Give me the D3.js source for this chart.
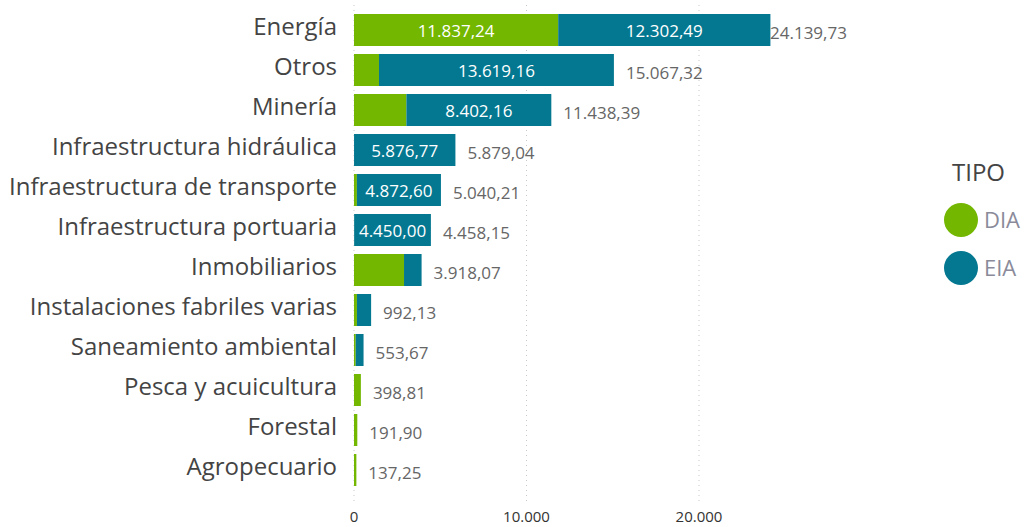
<!DOCTYPE html>
<meta charset="utf-8">
<svg width="1026" height="527"></svg>
<script src="https://d3js.org/d3.v7.min.js"></script>
<style>
  body { margin: 0; background: #fff; }
  * { font-family: 'Open Sans', sans-serif; }
</style>
<script>
var categories = ["Energía", "Otros", "Minería", "Infraestructura hidráulica",
  "Infraestructura de transporte", "Infraestructura portuaria", "Inmobiliarios",
  "Instalaciones fabriles varias", "Saneamiento ambiental", "Pesca y acuicultura",
  "Forestal", "Agropecuario"];
var dia = [11837.24, 1448.16, 3036.23, 2.27, 167.61, 8.15, 2900.00, 170.00, 100.00, 398.81, 191.90, 137.25];
var eia = [12302.49, 13619.16, 8402.16, 5876.77, 4872.60, 4450.00, 1018.07, 822.13, 453.67, 0, 0, 0];
var totals = [24139.73, 15067.32, 11438.39, 5879.04, 5040.21, 4458.15, 3918.07, 992.13, 553.67, 398.81, 191.90, 137.25];
var xTicks = [0, 10000, 20000];
var series = ["DIA", "EIA"];
var colors = ["#73b700", "#047891"];

var svg = d3.select("svg");
var fmt = d3.formatLocale({decimal: ",", thousands: ".", grouping: [3], currency: ["", ""]});
var fmt2 = fmt.format(",.2f"), fmt0 = fmt.format(",.0f");

var x = d3.scaleLinear().domain([0, 10000]).range([354, 526.5]);
var y = d3.scaleBand().domain(categories).range([10, 490]).paddingInner(0.2).paddingOuter(0.1);

// gridlines
svg.append("g").selectAll("line").data(xTicks).join("line")
  .attr("x1", d => x(d)).attr("x2", d => x(d))
  .attr("y1", 5).attr("y2", 505)
  .attr("stroke", "#c8c8c8").attr("stroke-dasharray", "1,4");

var rows = categories.map((c, i) => ({c: c, dia: dia[i], eia: eia[i], total: totals[i]}));
var stack = d3.stack().keys(["dia", "eia"])(rows);

svg.append("g").selectAll("g").data(stack).join("g")
  .attr("fill", (d, i) => colors[i])
  .selectAll("rect").data(d => d).join("rect")
  .attr("x", d => x(d[0]))
  .attr("width", d => Math.max(0, x(d[1]) - x(d[0])))
  .attr("y", d => y(d.data.c))
  .attr("height", y.bandwidth());

// in-bar labels
stack.forEach(function(s) {
  svg.append("g").selectAll("text").data(s.filter(d => x(d[1]) - x(d[0]) > 70)).join("text")
    .attr("x", d => (x(d[0]) + x(d[1])) / 2)
    .attr("y", d => y(d.data.c) + y.bandwidth() / 2 + 1)
    .attr("dy", "0.35em")
    .attr("text-anchor", "middle")
    .attr("fill", "#fff")
    .style("font-size", "17px")
    .text(d => fmt2(d[1] - d[0]));
});

// totals
svg.append("g").selectAll("text").data(rows).join("text")
  .attr("x", d => Math.min(x(d.total) + 12, 770))
  .attr("y", d => y(d.c) + y.bandwidth() / 2 + 3)
  .attr("dy", "0.35em")
  .attr("fill", "#666")
  .style("font-size", "17px")
  .text(d => fmt2(d.total));

// category labels
svg.append("g").selectAll("text").data(categories).join("text")
  .attr("x", 337)
  .attr("y", d => y(d) + y.bandwidth() / 2 - 3)
  .attr("dy", "0.35em")
  .attr("text-anchor", "end")
  .attr("fill", "#444")
  .style("font-size", "24px")
  .text(d => d);

// x axis labels
svg.append("g").selectAll("text").data(xTicks).join("text")
  .attr("x", d => x(d))
  .attr("y", 522)
  .attr("text-anchor", "middle")
  .attr("fill", "#333")
  .style("font-size", "15px")
  .text(d => fmt0(d));

// legend
var leg = svg.append("g");
leg.append("text").attr("x", 952).attr("y", 181).attr("fill", "#444")
  .style("font-size", "24px").text("TIPO");
series.forEach(function(s, i) {
  leg.append("circle").attr("cx", 961).attr("cy", 220 + i * 48).attr("r", 17).attr("fill", colors[i]);
  leg.append("text").attr("x", 984).attr("y", 220 + i * 48).attr("dy", "0.35em")
    .attr("fill", "#8a8a9a").style("font-size", "22px").text(s);
});
</script>
